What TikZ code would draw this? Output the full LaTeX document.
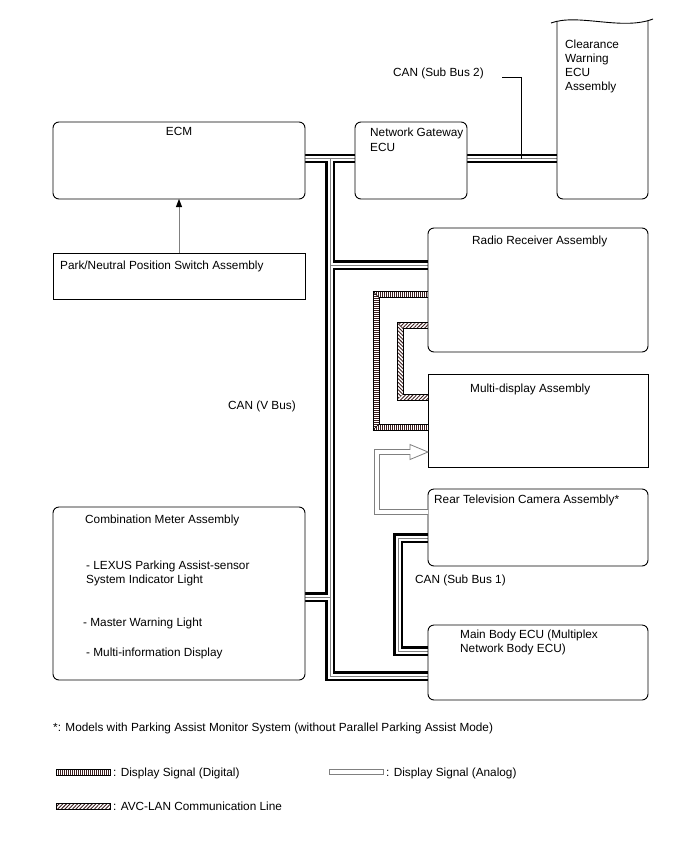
\documentclass[tikz,border=0pt]{standalone}
\usepackage{fontspec}
\setmainfont{Liberation Sans}
\usetikzlibrary{patterns.meta,arrows.meta}
\pgfdeclarelayer{bg}
\pgfsetlayers{bg,main}
\definecolor{hatch}{RGB}{60,30,30}
\begin{document}
\begin{tikzpicture}[x=1pt,y=-1pt,
  box/.style={draw, line width=0.9pt, fill=white, inner sep=0pt, outer sep=0pt},
  rbox/.style={box, rounded corners=6pt},
  txt/.style={anchor=west, inner sep=0pt, text height=8pt, text depth=0pt, font=\fontsize{11.8}{14}\selectfont},
  band/.style={draw=black, line width=0.5pt},
  vhatch/.style={pattern={Lines[angle=90, distance=2pt, line width=0.9pt]}, pattern color=hatch},
  hhatch/.style={pattern={Lines[angle=0, distance=2pt, line width=0.9pt]}, pattern color=hatch},
  dhatch/.style={pattern={Lines[angle=45, distance=2.6pt, line width=0.9pt]}, pattern color=hatch},
  ddhatch/.style={pattern={Lines[angle=-45, distance=2.6pt, line width=0.9pt]}, pattern color=hatch}]
\begin{pgfonlayer}{bg}
\fill[white] (0,0) rectangle (688,852);
\end{pgfonlayer}
\useasboundingbox (0,0) rectangle (688,852);

% boxes
\node[rbox, minimum width=252pt, minimum height=77pt] (ECM) at (179,160.5) {};
\node[box, minimum width=252pt, minimum height=46pt] (Park) at (179,276) {};
\node[rbox, minimum width=112pt, minimum height=77pt] (GW) at (411,160.5) {};
\node[rbox, minimum width=220pt, minimum height=124pt] (Radio) at (538,290) {};
\node[box, minimum width=220pt, minimum height=93pt] (Multi) at (538,420.5) {};
\node[rbox, minimum width=220pt, minimum height=77pt] (Rear) at (538,527.5) {};
\node[rbox, minimum width=220pt, minimum height=75pt] (Main) at (538,662.5) {};
\node[rbox, minimum width=252pt, minimum height=173pt] (Comb) at (179,593.5) {};

% clearance warning ECU (broken top)
\fill[white, rounded corners=6pt] (557,21) -- (557,199) -- (648,199) -- (648,21) -- cycle;
\draw[line width=0.9pt, rounded corners=6pt] (557,21) -- (557,199) -- (648,199) -- (648,21);
\draw[line width=0.9pt] (551,23) .. controls (578,13) and (622,31) .. (653,19);
\coordinate (CWw) at (557,158.5);

% bus coordinates
\coordinate (tj) at (330,158.5);
\coordinate (vc) at (330,676);
\coordinate (rj) at (330,265);
\coordinate (cj) at (330,597);
\coordinate (s1a) at (398,538);
\coordinate (s1b) at (398,651);

\newcommand\buspaths{(ECM.east |- tj) -- (GW.west |- tj)
  (tj) -- (vc) -- (Main.west |- vc)
  (rj) -- (Radio.west |- rj)
  (Comb.east |- cj) -- (cj)
  (GW.east |- tj) -- (CWw)
  (Rear.west |- s1a) -- (s1a) -- (s1b) -- (Main.west |- s1b)}
\begin{pgfonlayer}{bg}
\draw[line width=9.5pt, line join=miter] \buspaths;
\draw[white, line width=5pt, line join=miter] \buspaths;
\draw[gray, line width=0.6pt] \buspaths;
\end{pgfonlayer}

% display signal (digital)
\fill[vhatch] (428,291.5) -- (373,291.5) -- (379,297.5) -- (428,297.5) -- cycle;
\fill[hhatch] (373,291.5) -- (373,430) -- (379,424) -- (379,297.5) -- cycle;
\fill[vhatch] (379,424) -- (373,430) -- (428,430) -- (428,424) -- cycle;
\draw[band] (Radio.west |- 0,291.5) -- (373,291.5) -- (373,430) -- (Multi.west |- 0,430);
\draw[band] (Radio.west |- 0,297.5) -- (379,297.5) -- (379,424) -- (Multi.west |- 0,424);
\draw[band] (373,291.5) -- (379,297.5) (373,430) -- (379,424);

% AVC-LAN
\fill[dhatch] (428,322) -- (397,322) -- (403,328) -- (428,328) -- cycle;
\fill[ddhatch] (397,322) -- (397,400) -- (403,394) -- (403,328) -- cycle;
\fill[dhatch] (403,394) -- (397,400) -- (428,400) -- (428,394) -- cycle;
\draw[band] (Radio.west |- 0,322) -- (397,322) -- (397,400) -- (Multi.west |- 0,400);
\draw[band] (Radio.west |- 0,328) -- (403,328) -- (403,394) -- (Multi.west |- 0,394);

% display signal (analog)
\draw[gray, line width=0.8pt, fill=white] (Rear.west |- 0,509.5) -- (379.5,509.5) -- (379.5,454.5) -- (410,454.5) -- (410,459.5) -- (Multi.west |- 0,452) -- (410,444.5) -- (410,449.5) -- (374.5,449.5) -- (374.5,514.5) -- (Rear.west |- 0,514.5);

% park arrow
\draw[gray, line width=0.9pt, -{Triangle[black, length=8pt, width=6pt]}] (Park.north) -- (ECM.south);

% leader for sub bus 2
\node[txt] (sb2) at (393,72) {CAN (Sub Bus 2)};
\coordinate (ld) at (502,77);
\draw[line width=0.8pt] (ld) -| (tj -| 521,0);

% texts
\node[txt, anchor=center] at (179,131) {ECM};
\node[txt] at (60,265) {Park/Neutral Position Switch Assembly};
\node[txt] at (370,132) {Network Gateway};
\node[txt] at (370,147) {ECU};
\node[txt] at (565,44) {Clearance};
\node[txt] at (565,58) {Warning};
\node[txt] at (565,72) {ECU};
\node[txt] at (565,86) {Assembly};
\node[txt] at (472,240) {Radio Receiver Assembly};
\node[txt] at (470,388) {Multi-display Assembly};
\node[txt] at (434,499) {Rear Television Camera Assembly*};
\node[txt] at (460,634) {Main Body ECU (Multiplex};
\node[txt] at (460,648) {Network Body ECU)};
\node[txt] at (415,579) {CAN (Sub Bus 1)};
\node[txt] at (228,405) {CAN (V Bus)};
\node[txt] at (85,519) {Combination Meter Assembly};
\node[txt] at (86,565) {- LEXUS Parking Assist-sensor};
\node[txt] at (86,579) {System Indicator Light};
\node[txt] at (83,622) {- Master Warning Light};
\node[txt] at (86,652) {- Multi-information Display};
\node[txt] at (53,727) {*: Models with Parking Assist Monitor System (without Parallel Parking Assist Mode)};

% legend
\fill[vhatch] (56,769) rectangle (110,775);
\draw[band] (56,769) rectangle (110,775);
\node[txt] at (113,772) {: Display Signal (Digital)};
\draw[gray, line width=0.8pt, fill=white] (329,769.5) rectangle (383,774.5);
\node[txt] at (386,772) {: Display Signal (Analog)};
\fill[dhatch] (56,803) rectangle (110,809);
\draw[band] (56,803) rectangle (110,809);
\node[txt] at (113,806) {: AVC-LAN Communication Line};
\end{tikzpicture}
\end{document}
